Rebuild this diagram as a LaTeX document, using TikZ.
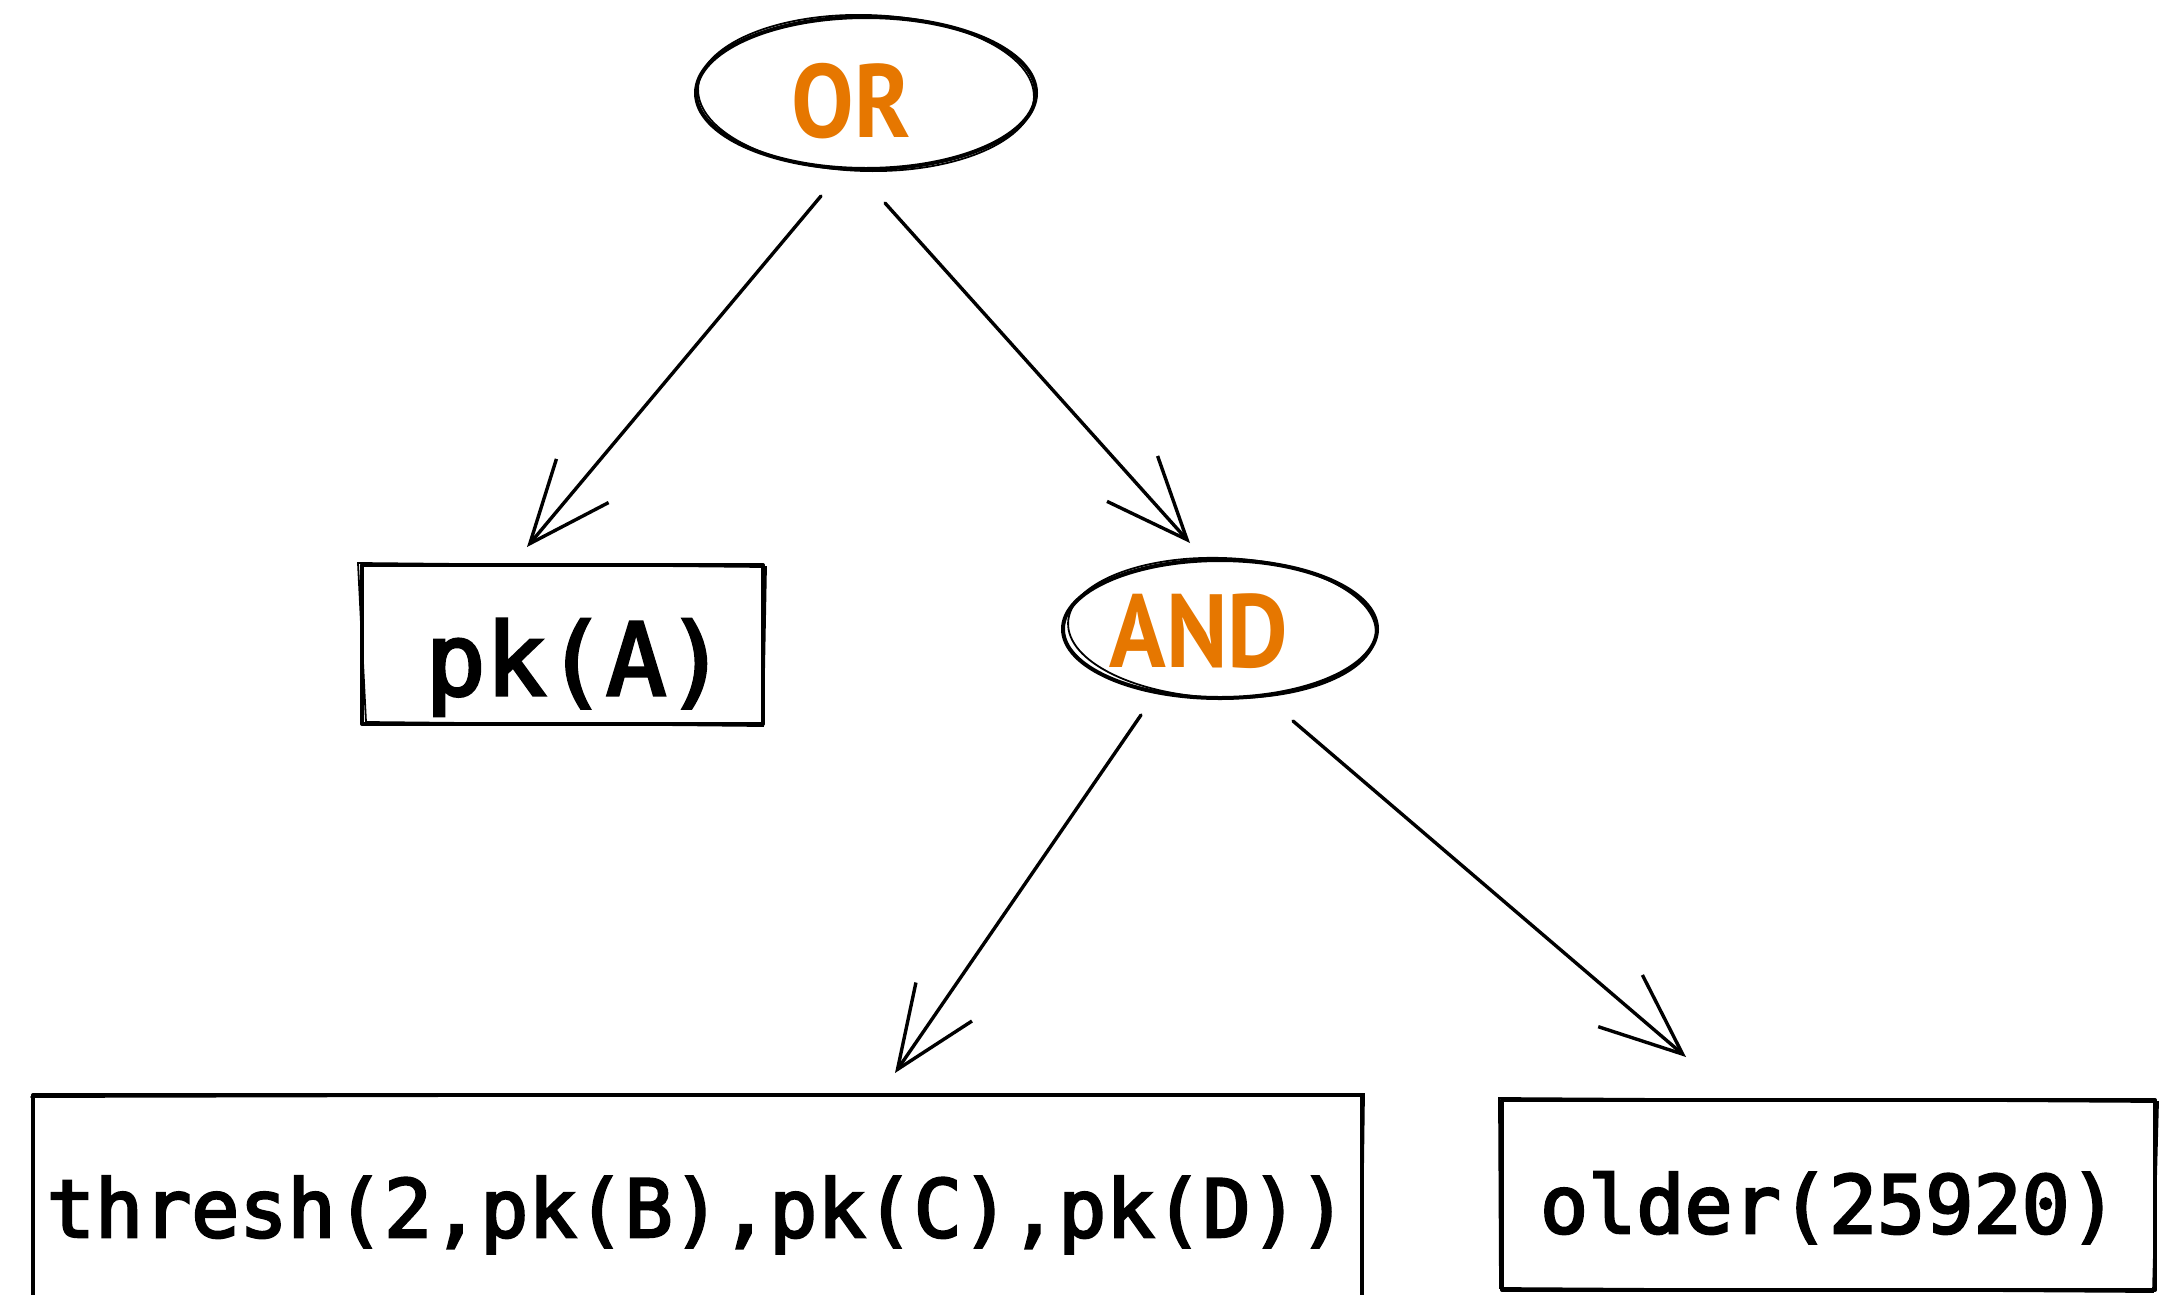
\documentclass[tikz,border=0pt]{standalone}
\usepackage{fontspec}
\setmainfont{PT Sans}
\setmonofont{DejaVu Sans Mono}
\newfontfamily\opfont[FakeStretch=0.9]{PT Sans}
\newfontfamily\codefont[FakeBold=3.2]{DejaVu Sans Mono}
\usetikzlibrary{shapes.geometric,arrows.meta}
\definecolor{opcolor}{RGB}{230,119,0}
\tikzset{
  ink/.style={line width=4pt, black, line cap=round, line join=round},
  opshape/.style={ellipse, ink, draw, inner sep=0pt},
  leafbox/.style={rectangle, ink, draw, inner sep=0pt},
  optext/.style={anchor=base, text=opcolor, inner sep=0pt,
    font=\opfont\bfseries\fontsize{104}{120}\selectfont},
  codetext/.style={anchor=base, inner sep=0pt,
    font=\codefont\fontsize{80}{96}\selectfont},
  bigcode/.style={anchor=base, inner sep=0pt,
    font=\codefont\fontsize{100}{120}\selectfont},
  edge/.style={line width=3.4pt, line cap=round,
    -{Straight Barb[length=82pt, width=68pt, line width=3.4pt]}},
  retrace/.style={line width=1.8pt, black, line cap=round}
}
\begin{document}
\begin{tikzpicture}[x=1pt, y=-1pt]
  \useasboundingbox (0,0) rectangle (2161,1294);
  \clip (0,0) rectangle (2161,1294);
  \fill[white] (0,0) rectangle (2161,1294);

  % operator nodes
  \node[opshape, minimum width=340pt, minimum height=152pt] (or) at (866,93) {};
  \draw[retrace] (866,93) ellipse [x radius=168pt, y radius=78pt, rotate=-1.5];
  \node[optext] (orlabel) at (851,137) {OR};

  \node[opshape, minimum width=314pt, minimum height=138pt] (and) at (1220,629) {};
  \draw[retrace] (1222,628) ellipse [x radius=154pt, y radius=70pt, rotate=-2];
  \node[optext] (andlabel) at (1199,667) {AND};

  % leaf boxes
  \node[leafbox, minimum width=401pt, minimum height=159pt] (pka) at (562.5,644.5) {};
  \draw[retrace] (358,563) -- (766,567) -- (763,726) -- (366,722) -- cycle;
  \node[bigcode] (pkalabel) at (576,695) {pk(A)};

  \node[leafbox, minimum width=1329pt, minimum height=230pt] (thresh) at (697.5,1210) {};
  \draw[retrace] (31,1097) -- (1364,1094) -- (1361,1320);
  \node[codetext] (threshlabel) at (697,1237) {thresh(2,pk(B),pk(C),pk(D))};

  \node[leafbox, minimum width=653pt, minimum height=190pt] (older) at (1828.5,1195) {};
  \draw[retrace] (1499,1098) -- (2158,1102) -- (2153,1292) -- (1500,1288) -- cycle;
  \node[codetext] (olderlabel) at (1829,1233) {older(25920)};

  % connector end points
  \coordinate (e1s) at (821,196);  \coordinate (e1t) at (527,547);
  \coordinate (e2s) at (885,203);  \coordinate (e2t) at (1190,543);
  \coordinate (e3s) at (1141,715); \coordinate (e3t) at (895,1073);
  \coordinate (e4s) at (1293,721); \coordinate (e4t) at (1686,1057);

  \draw[edge] (e1s) -- (e1t);
  \draw[edge] (e2s) -- (e2t);
  \draw[edge] (e3s) -- (e3t);
  \draw[edge] (e4s) -- (e4t);
\end{tikzpicture}
\end{document}
